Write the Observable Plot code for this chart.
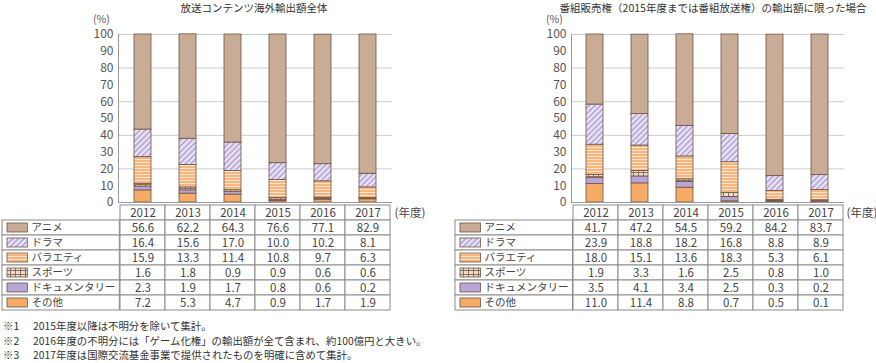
<!DOCTYPE html>
<html><head><meta charset="utf-8">
<script src="https://cdn.jsdelivr.net/npm/d3@7"></script>
<script src="https://cdn.jsdelivr.net/npm/@observablehq/plot@0.6"></script>
<style>
body{margin:0;background:#fff;font-family:"Noto Sans CJK JP","Noto Sans",sans-serif;}
#root{position:relative;width:876px;height:363px;overflow:hidden;background:#fff}
#root svg{overflow:visible}
.abs{position:absolute}
.title{font-size:10.5px;color:#333;white-space:nowrap;transform:translateX(-50%);line-height:15.4px}
.unit{font-size:10.5px;color:#555;line-height:12px}
.notes{font-size:10.4px;color:#333;line-height:14.5px;left:3px;top:319px;white-space:nowrap}
.notes span{display:inline-block;width:30px}
</style></head>
<body>
<svg width="0" height="0" style="position:absolute">
 <defs>
  <pattern id="pDrama" patternUnits="userSpaceOnUse" width="4" height="4" patternTransform="rotate(45)">
   <rect width="4" height="4" fill="#bcaddb"/>
   <rect width="1.7" height="4" fill="#f4f0fa"/>
  </pattern>
  <pattern id="pVariety" patternUnits="userSpaceOnUse" width="4" height="3">
   <rect width="4" height="3" fill="#f8b67c"/>
   <rect width="4" height="1" fill="#fde6d0"/>
  </pattern>
  <pattern id="pSports" patternUnits="userSpaceOnUse" width="5" height="4">
   <rect width="5" height="4" fill="#8f6e58"/>
   <rect x="1" y="1" width="4" height="3" fill="#ecdccb"/>
  </pattern>
 </defs>
</svg>
<div id="root"></div>
<script>
const years = ["2012","2013","2014","2015","2016","2017"];
const categories = ["アニメ","ドラマ","バラエティ","スポーツ","ドキュメンタリー","その他"];

// 放送コンテンツ海外輸出額全体
const allAnime   = [56.6,62.2,64.3,76.6,77.1,82.9];
const allDrama   = [16.4,15.6,17.0,10.0,10.2,8.1];
const allVariety = [15.9,13.3,11.4,10.8,9.7,6.3];
const allSports  = [1.6,1.8,0.9,0.9,0.6,0.6];
const allDoc     = [2.3,1.9,1.7,0.8,0.6,0.2];
const allOther   = [7.2,5.3,4.7,0.9,1.7,1.9];

// 番組販売権の輸出額に限った場合
const rightsAnime   = [41.7,47.2,54.5,59.2,84.2,83.7];
const rightsDrama   = [23.9,18.8,18.2,16.8,8.8,8.9];
const rightsVariety = [18.0,15.1,13.6,18.3,5.3,6.1];
const rightsSports  = [1.9,3.3,1.6,2.5,0.8,1.0];
const rightsDoc     = [3.5,4.1,3.4,2.5,0.3,0.2];
const rightsOther   = [11.0,11.4,8.8,0.7,0.5,0.1];

const titleAll = "放送コンテンツ海外輸出額全体";
const titleRights = "番組販売権（2015年度までは番組放送権）の輸出額に限った場合";
const yearUnit = "(年度)";
const pctUnit = "(%)";
const notes = [
  ["※1","2015年度以降は不明分を除いて集計。"],
  ["※2","2016年度の不明分には「ゲーム化権」の輸出額が全て含まれ、約100億円と大きい。"],
  ["※3","2017年度は国際交流基金事業で提供されたものを明確に含めて集計。"]
];

const fills = {
  "アニメ":"#c9ac95",
  "ドラマ":"url(#pDrama)",
  "バラエティ":"url(#pVariety)",
  "スポーツ":"url(#pSports)",
  "ドキュメンタリー":"#b9a6d6",
  "その他":"#f6ab66"
};
const edge = "#6e5446";
const font = '"Noto Sans CJK JP","Noto Sans",sans-serif';
const root = document.getElementById("root");

function addDiv(cls, text, style){
  const d = document.createElement("div");
  d.className = "abs " + cls;
  d.textContent = text;
  Object.assign(d.style, style);
  root.appendChild(d);
  return d;
}

function panel(series, left, width, marginRight, title, titleX){
  const byCat = {};
  categories.forEach((c,i)=>byCat[c]=series[i]);
  // bottom-to-top stacking order
  const stackOrder = categories.slice().reverse();
  const bars = [];
  stackOrder.forEach(c=>years.forEach((y,j)=>bars.push({year:y, cat:c, value:byCat[c][j]})));

  const chart = Plot.plot({
    width, height:203, marginLeft:118, marginRight, marginTop:34, marginBottom:1,
    style:{fontFamily:font, fontSize:"12px", color:"#555", background:"transparent", overflow:"visible"},
    x:{domain:years, paddingInner:0.62, paddingOuter:0.31, axis:null},
    y:{domain:[0,100], ticks:10, tickSize:0, tickPadding:5, label:null},
    marks:[
      Plot.gridY({stroke:"#cccccc", strokeOpacity:1}),
      Plot.barY(bars, {x:"year", y:"value", z:"cat", fill:d=>fills[d.cat], stroke:edge, strokeWidth:0.8}),
      Plot.ruleY([0], {stroke:"#999"}),
      Plot.frame({anchor:"left", stroke:"#999"})
    ]
  });
  chart.style.position = "absolute"; chart.style.left = left+"px"; chart.style.top = "0px";
  root.appendChild(chart);

  const step = (width - 118 - marginRight) / years.length;
  const cells = [];
  categories.forEach(c=>years.forEach((y,j)=>cells.push({year:y, cat:c, value:byCat[c][j]})));
  const rows = ["_year", ...categories];
  const grid = "#8c8c8c";
  const table = Plot.plot({
    width, height:112, marginLeft:118, marginRight, marginTop:0, marginBottom:1,
    style:{fontFamily:font, fontSize:"11.5px", color:"#444", background:"transparent", overflow:"visible"},
    x:{domain:years, padding:0, axis:null},
    y:{domain:rows, padding:0, axis:null},
    marks:[
      Plot.cell(years, {x:d=>d, y:()=>"_year", fill:"white", stroke:grid}),
      Plot.text(years, {x:d=>d, y:()=>"_year", text:d=>d}),
      Plot.cell(categories, {x:()=>years[0], y:d=>d, insetLeft:-118, insetRight:step, fill:"white", stroke:grid}),
      Plot.cell(cells, {x:"year", y:"cat", fill:"white", stroke:grid}),
      Plot.text(cells, {x:"year", y:"cat", text:d=>d.value.toFixed(1)}),
      Plot.cell(categories, {x:()=>years[0], y:d=>d, insetLeft:-113, insetRight:step+92, insetTop:3, insetBottom:3, fill:d=>fills[d], stroke:edge, strokeWidth:0.8}),
      Plot.text(categories, {y:d=>d, frameAnchor:"left", dx:-87, textAnchor:"start", text:d=>d, fontSize:10.5}),
      Plot.text([yearUnit], {y:()=>"_year", frameAnchor:"right", dx:2, textAnchor:"start", text:d=>d})
    ]
  });
  table.style.position = "absolute"; table.style.left = left+"px"; table.style.top = "202px";
  root.appendChild(table);

  addDiv("title", title, {left:titleX+"px", top:"0px"});
  addDiv("unit", pctUnit, {left:(left+93)+"px", top:"13px"});
}

panel([allAnime,allDrama,allVariety,allSports,allDoc,allOther], 0, 440, 48, titleAll, 254);
panel([rightsAnime,rightsDrama,rightsVariety,rightsSports,rightsDoc,rightsOther], 453, 423, 32, titleRights, 713);

const n = document.createElement("div");
n.className = "abs notes";
notes.forEach(([k,t])=>{
  const line = document.createElement("div");
  const s = document.createElement("span"); s.textContent = k;
  line.appendChild(s); line.appendChild(document.createTextNode(t));
  n.appendChild(line);
});
root.appendChild(n);
</script>
</body></html>
